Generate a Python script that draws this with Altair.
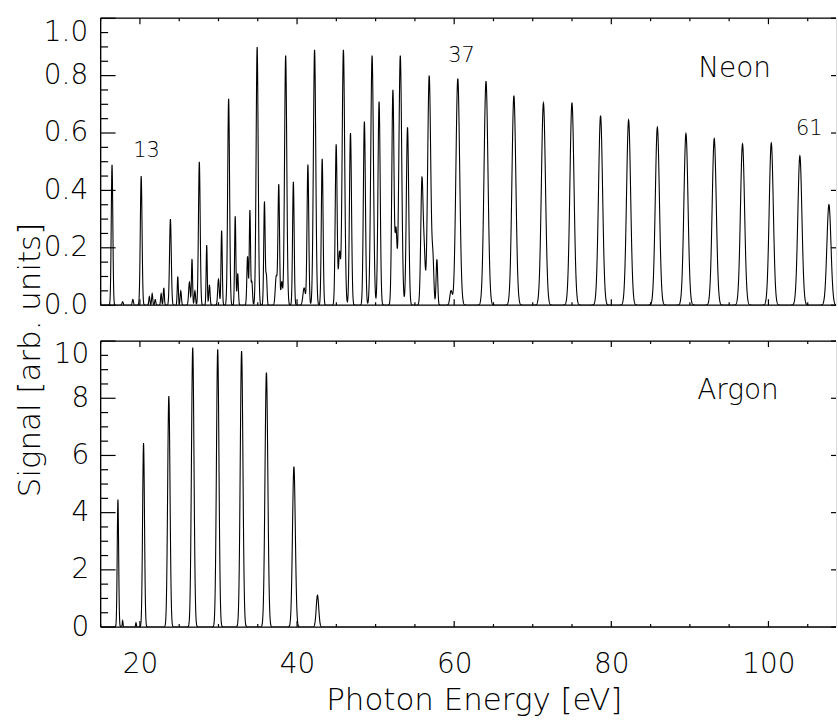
import altair as alt
import pandas as pd
import numpy as np

FONT = "DejaVu Sans"
FW = 200

# ---- Neon harmonic peaks: centre [eV], height, width [eV]
ne_center = [16.45, 17.80, 19.10, 20.16, 21.20, 21.56, 21.95, 22.70, 23.04, 23.88,
             24.82, 25.20, 26.30, 26.63, 27.00, 27.56, 28.50, 28.85, 30.00, 30.40,
             31.29, 32.13, 32.45, 33.70, 34.00, 34.25, 34.92, 35.85, 36.10, 37.35,
             37.67, 38.05, 38.55, 39.53, 40.90, 41.38, 42.23, 43.20, 44.98, 45.40,
             45.90, 46.80, 48.57, 49.55, 50.44, 52.20, 52.60, 53.14, 54.06, 55.90,
             56.20, 56.82, 57.30, 57.80, 59.60, 60.46, 64.05, 67.60, 71.36, 74.99,
             78.63, 82.20, 85.86, 89.50, 93.10, 96.70, 100.36, 104.00, 107.70]
ne_height = [0.49, 0.012, 0.02, 0.45, 0.03, 0.04, 0.02, 0.04, 0.06, 0.30,
             0.10, 0.05, 0.08, 0.16, 0.05, 0.50, 0.21, 0.07, 0.09, 0.26,
             0.72, 0.31, 0.11, 0.17, 0.33, 0.08, 0.90, 0.36, 0.10, 0.10,
             0.42, 0.08, 0.87, 0.43, 0.06, 0.49, 0.89, 0.51, 0.56, 0.18,
             0.89, 0.60, 0.64, 0.87, 0.71, 0.75, 0.25, 0.87, 0.62, 0.44,
             0.15, 0.80, 0.14, 0.16, 0.05, 0.79, 0.78, 0.73, 0.705, 0.705,
             0.66, 0.645, 0.62, 0.598, 0.58, 0.562, 0.565, 0.52, 0.35]
ne_width = [0.10, 0.08, 0.08, 0.11, 0.07, 0.07, 0.07, 0.07, 0.07, 0.11,
            0.07, 0.08, 0.10, 0.07, 0.08, 0.11, 0.07, 0.08, 0.10, 0.08,
            0.12, 0.08, 0.08, 0.09, 0.08, 0.08, 0.13, 0.09, 0.08, 0.12,
            0.10, 0.10, 0.14, 0.10, 0.15, 0.11, 0.15, 0.11, 0.12, 0.12,
            0.16, 0.13, 0.13, 0.17, 0.14, 0.14, 0.12, 0.18, 0.15, 0.15,
            0.12, 0.20, 0.12, 0.10, 0.15, 0.24, 0.25, 0.25, 0.26, 0.26,
            0.26, 0.26, 0.26, 0.26, 0.26, 0.26, 0.26, 0.26, 0.26]

# ---- Argon harmonic peaks
ar_center = [17.20, 17.80, 19.50, 20.46, 23.68, 26.72, 29.90, 32.94, 36.10, 39.60, 42.60]
ar_height = [4.46, 0.22, 0.15, 6.43, 8.08, 9.77, 9.71, 9.65, 8.90, 5.61, 1.11]
ar_width = [0.09, 0.05, 0.05, 0.12, 0.15, 0.16, 0.16, 0.17, 0.18, 0.18, 0.16]

# ---- axes / annotations
x_domain = [15, 108.6]
x_major = [20, 40, 60, 80, 100]
x_minor = [15, 25, 30, 35, 45, 50, 55, 65, 70, 75, 85, 90, 95, 105]
ne_major = [0.0, 0.2, 0.4, 0.6, 0.8, 1.0]
ne_minor = [0.05, 0.1, 0.15, 0.25, 0.3, 0.35, 0.45, 0.5, 0.55, 0.65, 0.7, 0.75, 0.85, 0.9, 0.95]
ar_major = [0, 2, 4, 6, 8, 10]
ar_minor = [0.5, 1, 1.5, 2.5, 3, 3.5, 4.5, 5, 5.5, 6.5, 7, 7.5, 8.5, 9, 9.5]

ne_lab_text = ["13", "37", "61"]
ne_lab_x = [19.15, 59.23, 103.5]
ne_lab_y = [0.517, 0.847, 0.594]
gas_text = ["Neon", "Argon"]
gas_x = [91.06, 90.94]
gas_y = [0.795, 7.98]

W = 738
H_TOP = 288
H_BOT = 287

energy = np.round(np.arange(x_domain[0], x_domain[1] + 1e-9, 0.02), 3)


def spectrum(c, h, w):
    y = np.zeros_like(energy)
    for ci, hi, wi in zip(c, h, w):
        y += hi * np.exp(-0.5 * ((energy - ci) / wi) ** 2)
    return np.round(y, 4)


ne_df = pd.DataFrame({"E": energy, "v": spectrum(ne_center, ne_height, ne_width)})
ar_df = pd.DataFrame({"E": energy, "v": spectrum(ar_center, ar_height, ar_width)})

xs = alt.Scale(domain=x_domain, nice=False, zero=False)


def panel(df, ydomain, ymaj, ymin, H, x_axis, y_axis, labels_df, label_size):
    ys = alt.Scale(domain=ydomain, nice=False, zero=False)
    X = lambda: alt.X("E:Q", scale=xs, axis=x_axis)
    Y = lambda: alt.Y("v:Q", scale=ys, axis=y_axis)
    layers = []
    layers.append(alt.Chart(df).mark_line(color="black", strokeWidth=1.1, clip=True)
                  .encode(x=X(), y=Y()))
    one = pd.DataFrame({"E": [x_domain[0]], "v": [ydomain[0]]})
    # frame: left, top, bottom
    layers.append(alt.Chart(one).mark_rule(color="black", strokeWidth=1.3)
                  .encode(x=alt.value(0), y=alt.value(0), y2=alt.value(H)))
    layers.append(alt.Chart(one).mark_rule(color="black", strokeWidth=1.3)
                  .encode(x=alt.value(0), x2=alt.value(W), y=alt.value(0)))
    layers.append(alt.Chart(one).mark_rule(color="black", strokeWidth=1.3)
                  .encode(x=alt.value(0), x2=alt.value(W), y=alt.value(H)))
    # x ticks (inside, bottom and top)
    for vals, ln in ((x_major, 6), (x_minor, 3)):
        d = pd.DataFrame({"E": vals})
        layers.append(alt.Chart(d).mark_rule(color="black", strokeWidth=1.2)
                      .encode(x=X(), y=alt.value(H), y2=alt.value(H - ln)))
        layers.append(alt.Chart(d).mark_rule(color="black", strokeWidth=1.2)
                      .encode(x=X(), y=alt.value(0), y2=alt.value(ln)))
    # y ticks (inside, left; right majors cut by the edge)
    for vals, ln in ((ymaj, 15), (ymin, 7.5)):
        d = pd.DataFrame({"v": vals})
        layers.append(alt.Chart(d).mark_rule(color="black", strokeWidth=1.2)
                      .encode(y=Y(), x=alt.value(0), x2=alt.value(ln)))
    d = pd.DataFrame({"v": ymaj})
    layers.append(alt.Chart(d).mark_rule(color="black", strokeWidth=1.2)
                  .encode(y=Y(), x=alt.value(W - 5), x2=alt.value(W)))
    for ldf, fs in zip(labels_df, label_size):
        layers.append(alt.Chart(ldf).mark_text(align="left", baseline="alphabetic",
                                               fontSize=fs, font=FONT, fontWeight=FW,
                                               color="black")
                      .encode(x=X(), y=Y(), text="label:N"))
    return alt.layer(*layers).properties(width=W, height=H)


top_y_axis = alt.Axis(values=ne_major, format=".1f", ticks=False, domain=False, grid=False,
                      labelFontSize=28, labelPadding=13, labelFlush=False, labelColor="black",
                      labelFont=FONT, labelFontWeight=FW, title=None,
                      labelBaseline={"condition": {"test": "datum.value == 1", "value": "top"},
                                     "value": "middle"})
bot_y_axis = alt.Axis(values=ar_major, format="d", ticks=False, domain=False, grid=False,
                      labelFontSize=28, labelPadding=12, labelFlush=False, labelColor="black",
                      labelFont=FONT, labelFontWeight=FW,
                      labelBaseline={"condition": {"test": "datum.value == 10", "value": "top"},
                                     "value": "middle"},
                      title="Signal [arb. units]", titleFontSize=31, titleFontWeight=FW,
                      titleFont=FONT, titleColor="black", titleAngle=270, titleAlign="center",
                      titleBaseline="alphabetic", titleX=-61, titleY=18.5)
bot_x_axis = alt.Axis(values=x_major, format="d", ticks=False, domain=False, grid=False,
                      labelFontSize=28, labelPadding=24, labelFlush=False, labelColor="black",
                      labelFont=FONT, labelFontWeight=FW,
                      title="Photon Energy [eV]", titleFontSize=31, titleFontWeight=FW,
                      titleFont=FONT, titleColor="black", titleAlign="center",
                      titleBaseline="alphabetic", titleX=374.5, titleY=83)

ne_labels = pd.DataFrame({"E": ne_lab_x, "v": ne_lab_y, "label": ne_lab_text})
ne_gas = pd.DataFrame({"E": [gas_x[0]], "v": [gas_y[0]], "label": [gas_text[0]]})
ar_gas = pd.DataFrame({"E": [gas_x[1]], "v": [gas_y[1]], "label": [gas_text[1]]})

top = panel(ne_df, [0, 1], ne_major, ne_minor, H_TOP, None, top_y_axis,
            [ne_labels, ne_gas], [21, 28])
bottom = panel(ar_df, [0, 10], ar_major, ar_minor, H_BOT, bot_x_axis, bot_y_axis,
               [ar_gas], [28])

chart = (alt.vconcat(top, bottom, spacing=36, bounds="flush")
         .properties(padding={"left": 14, "top": 15, "right": 0, "bottom": 0},
                     background="white")
         .configure_view(stroke=None)
         .configure(font=FONT))

chart.save("out.html", embed_options={"renderer": "svg", "actions": False})
